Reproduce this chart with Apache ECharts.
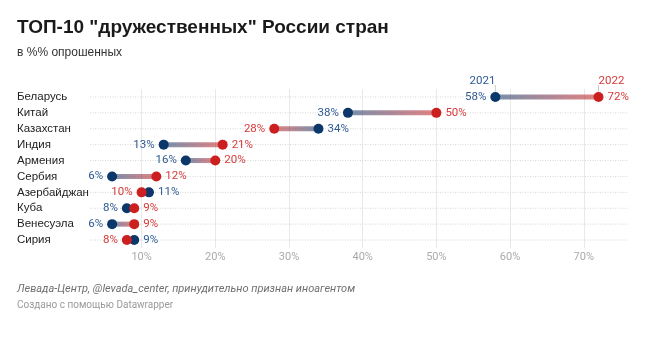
<!DOCTYPE html>
<html>
<head>
<meta charset="utf-8">
<script src="https://cdn.jsdelivr.net/npm/echarts@6/dist/echarts.min.js"></script>
<style>
html,body{margin:0;padding:0;background:#fff;}
#c{width:662px;height:338px;}
</style>
</head>
<body>
<div id="c"></div>
<script>
const categories = ['Беларусь','Китай','Казахстан','Индия','Армения','Сербия','Азербайджан','Куба','Венесуэла','Сирия'];
const values2021 = [58,38,34,13,16,6,11,8,6,9];
const values2022 = [72,50,28,21,20,12,10,9,9,8];
const tickValues = [10,20,30,40,50,60,70];
const years = ['2021','2022'];

const BLUE = '#0c376b';
const RED = '#cc1f1f';
const BLUE_TXT = '#2f5a93';
const RED_TXT = '#d63a3a';

const chart = echarts.init(document.getElementById('c'));

function dotData(vals, other) {
  return vals.map((v, i) => ({
    value: [v, i],
    label: { position: v <= other[i] ? 'left' : 'right' }
  }));
}

chart.setOption({
  animation: false,
  backgroundColor: '#fff',
  title: [
    { text: 'ТОП-10 "дружественных" России стран', left: 17, top: 18, padding: 0,
      textStyle: { fontFamily: 'Liberation Sans', fontWeight: 'bold', fontSize: 19, color: '#1a1a1a' } },
    { text: 'в %% опрошенных', left: 17, top: 47, padding: 0,
      textStyle: { fontFamily: 'Liberation Sans', fontWeight: 'normal', fontSize: 12, color: '#333' } },
    { text: 'Левада-Центр, @levada_center, принудительно признан иноагентом', left: 17, top: 284, padding: 0,
      textStyle: { fontFamily: 'Roboto', fontStyle: 'italic', fontWeight: 'normal', fontSize: 11, color: '#707070' } },
    { text: 'Создано с помощью Datawrapper', left: 17, top: 300, padding: 0,
      textStyle: { fontFamily: 'Roboto', fontWeight: 'normal', fontSize: 10, color: '#9a9a9a' } }
  ],
  grid: { left: 90, right: 34, top: 89, bottom: 90 },
  xAxis: {
    type: 'value', min: 3, max: 76,
    axisLine: { show: false },
    axisTick: { show: false, customValues: tickValues },
    axisLabel: { customValues: tickValues, formatter: '{value}%', color: '#aaa',
      fontFamily: 'Roboto', fontSize: 11, margin: 4 },
    splitLine: { show: true, lineStyle: { color: '#e9e9e9', width: 1 } }
  },
  yAxis: {
    type: 'category', data: categories, inverse: true,
    axisLine: { show: false }, axisTick: { show: false },
    axisLabel: { align: 'left', margin: 73, color: '#222', fontFamily: 'Liberation Sans', fontSize: 11.5 },
    splitLine: { show: false }
  },
  series: [
    {
      type: 'custom', z: 1, silent: true,
      data: categories.map((c, i) => [values2021[i], values2022[i], i]),
      renderItem: function (params, api) {
        const i = api.value(2);
        const p1 = api.coord([api.value(0), i]);
        const p2 = api.coord([api.value(1), i]);
        const cs = params.coordSys;
        const children = [
          { type: 'line', shape: { x1: cs.x, y1: p1[1], x2: cs.x + cs.width, y2: p1[1] },
            style: { stroke: '#d6d6d6', lineWidth: 1, lineDash: [1, 1.5] } },
          { type: 'line', shape: { x1: p1[0], y1: p1[1], x2: p2[0], y2: p2[1] },
            style: { lineWidth: 5, stroke: new echarts.graphic.LinearGradient(p1[0], 0, p2[0], 0, [
              { offset: 0, color: 'rgba(12,55,107,0.55)' },
              { offset: 1, color: 'rgba(204,31,31,0.55)' }
            ], true) } }
        ];
        if (params.dataIndex === 0) {
          children.push(
            { type: 'line', shape: { x1: p1[0], y1: p1[1] - 12, x2: p1[0], y2: p1[1] - 5 },
              style: { stroke: '#ccc', lineWidth: 1 } },
            { type: 'line', shape: { x1: p2[0], y1: p2[1] - 12, x2: p2[0], y2: p2[1] - 5 },
              style: { stroke: '#ccc', lineWidth: 1 } },
            { type: 'text', x: p1[0], y: p1[1] - 16,
              style: { text: years[0], fill: BLUE_TXT, font: '11.5px Roboto', align: 'right', verticalAlign: 'middle' } },
            { type: 'text', x: p2[0], y: p2[1] - 16,
              style: { text: years[1], fill: RED_TXT, font: '11.5px Roboto', align: 'left', verticalAlign: 'middle' } }
          );
        }
        return { type: 'group', children: children };
      }
    },
    {
      type: 'scatter', name: years[0], z: 3, symbolSize: 10,
      itemStyle: { color: BLUE, opacity: 1 },
      data: dotData(values2021, values2022),
      label: { show: true, distance: 4, color: BLUE_TXT, fontFamily: 'Roboto', fontSize: 11.5,
        formatter: p => p.value[0] + '%' }
    },
    {
      type: 'scatter', name: years[1], z: 3, symbolSize: 10,
      itemStyle: { color: RED, opacity: 1 },
      data: dotData(values2022, values2021),
      label: { show: true, distance: 4, color: RED_TXT, fontFamily: 'Roboto', fontSize: 11.5,
        formatter: p => p.value[0] + '%' }
    }
  ]
});
</script>
</body>
</html>
